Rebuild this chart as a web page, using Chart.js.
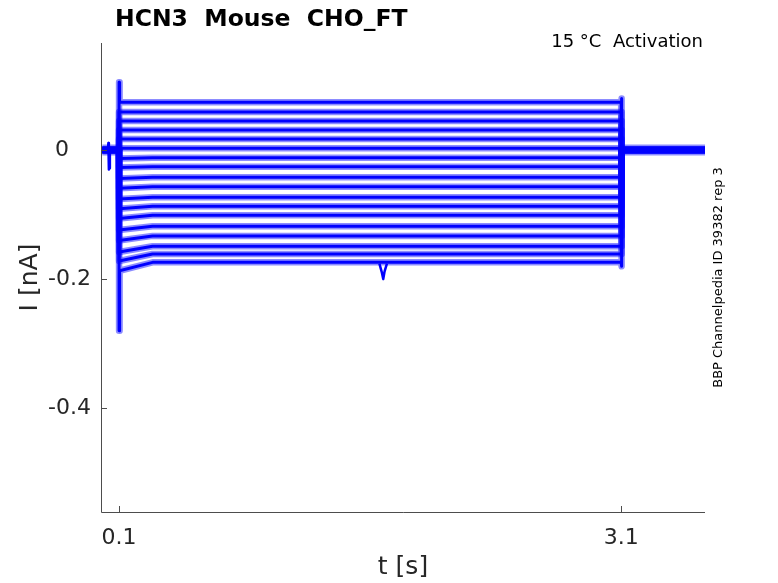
<!DOCTYPE html>
<html>
<head>
<meta charset="utf-8">
<script src="https://cdn.jsdelivr.net/npm/chart.js@4.4.1/dist/chart.umd.min.js"></script>
<style>
  html, body { margin: 0; padding: 0; background: #fff; }
  #wrap { width: 778px; height: 583px; }
</style>
</head>
<body>
<div id="wrap"><canvas id="myChart" width="778" height="583"></canvas></div>
<script>
// Time points of one sweep (s): holding, step on at 0.1, step off at 3.1
var sweepTimes = [0, 0.0995, 0.1, 0.103, 0.3, 3.099, 3.1, 3.104, 3.6];

// Steady current of each sweep during the step (nA), top to bottom
var levels = [0.074, 0.059, 0.045, 0.031, 0.017, 0.003, -0.012, -0.026, -0.042,
              -0.057, -0.073, -0.087, -0.101, -0.118, -0.133, -0.149, -0.161, -0.174];
// Current just after the onset (lower sweeps start a bit deeper)
var earlyLevels = [0.074, 0.059, 0.045, 0.031, 0.017, 0.003, -0.013, -0.027, -0.044,
                   -0.059, -0.076, -0.091, -0.106, -0.124, -0.140, -0.158, -0.172, -0.187];
// Capacitive spikes at onset and at step end
var onsetSpikes = [0.105, 0.059, 0.045, 0.031, 0.017, 0.003, -0.013, -0.027, -0.044,
                   -0.059, -0.076, -0.091, -0.106, -0.124, -0.140, -0.158, -0.172, -0.28];
var offsetSpikes = [0.08, 0.059, 0.045, 0.031, 0.017, 0.003, -0.012, -0.026, -0.042,
                    -0.057, -0.073, -0.087, -0.101, -0.118, -0.133, -0.149, -0.161, -0.18];

// Noise band of the holding current before and after the step
var bandTimes = [0, 0.099, 1.6, 3.103, 3.6];
var bandValues = [0, 0, null, 0, 0];

// Small artifact before the step
var artTimes = [0.033, 0.036, 0.039, 0.042, 0.045];
var artValues = [0, 0.011, -0.03, -0.028, 0];

// Dip on the lowest sweep
var dipTimes = [1.655, 1.67, 1.678, 1.686, 1.70];
var dipValues = [-0.176, -0.19, -0.2, -0.188, -0.176];

// Tick values and labels
var xTicks = [0.1, 3.1];
var xTickLabels = ['0.1', '3.1'];
var yTicks = [0, -0.2, -0.4];
var yTickLabels = ['0', '-0.2', '-0.4'];

var blue = '#0000ff';
var haze = 'rgba(0, 0, 255, 0.45)';
var fontName = '"DejaVu Sans", sans-serif';

function pairs(ts, vs) {
    return ts.map(function (t, i) { return { x: t, y: vs[i] }; });
}

var datasets = [];
// noisy look: a faint wide stroke under a narrow solid one
datasets.push({ data: pairs(bandTimes, bandValues), borderColor: haze, borderWidth: 11, spanGaps: false });
datasets.push({ data: pairs(bandTimes, bandValues), borderColor: blue, borderWidth: 6, spanGaps: false });
datasets.push({ data: pairs(artTimes, artValues), borderColor: blue, borderWidth: 2.5 });
levels.forEach(function (lv, i) {
    var vals = [0, 0, onsetSpikes[i], earlyLevels[i], lv, lv, offsetSpikes[i], 0, 0];
    datasets.push({ data: pairs(sweepTimes, vals), borderColor: haze, borderWidth: 6.5 });
    datasets.push({ data: pairs(sweepTimes, vals), borderColor: blue, borderWidth: 3 });
});
datasets.push({ data: pairs(dipTimes, dipValues), borderColor: blue, borderWidth: 2.5 });

// Draws MATLAB style axes (inward ticks, no box) and the texts
var axesPlugin = {
    id: 'matlabAxes',
    afterDraw: function (chart) {
        var ctx = chart.ctx, a = chart.chartArea;
        var xs = chart.scales.x, ys = chart.scales.y;
        ctx.save();
        ctx.strokeStyle = '#4d4d4d';
        ctx.lineWidth = 1;
        ctx.beginPath();
        ctx.moveTo(a.left + 0.5, a.top);
        ctx.lineTo(a.left + 0.5, a.bottom + 0.5);
        ctx.lineTo(a.right, a.bottom + 0.5);
        yTicks.forEach(function (v) {
            var y = Math.round(ys.getPixelForValue(v)) + 0.5;
            ctx.moveTo(a.left, y);
            ctx.lineTo(a.left + 6, y);
        });
        xTicks.forEach(function (v) {
            var x = Math.round(xs.getPixelForValue(v)) + 0.5;
            ctx.moveTo(x, a.bottom);
            ctx.lineTo(x, a.bottom - 6);
        });
        ctx.stroke();

        ctx.fillStyle = '#262626';
        ctx.font = '22px ' + fontName;
        ctx.textBaseline = 'middle';
        ctx.textAlign = 'right';
        yTicks.forEach(function (v, i) {
            var lbl = yTickLabels[i];
            var x = lbl === '0' ? 69 : 91;
            ctx.fillText(lbl, x, ys.getPixelForValue(v));
        });
        ctx.textAlign = 'center';
        xTicks.forEach(function (v, i) {
            ctx.fillText(xTickLabels[i], xs.getPixelForValue(v), a.bottom + 26);
        });

        ctx.font = '25px ' + fontName;
        ctx.fillText('t [s]', (a.left + a.right) / 2, a.bottom + 55);
        ctx.save();
        ctx.translate(30, (a.top + a.bottom) / 2);
        ctx.rotate(-Math.PI / 2);
        ctx.fillText('I [nA]', 0, 0);
        ctx.restore();

        ctx.textBaseline = 'alphabetic';
        ctx.textAlign = 'left';
        ctx.fillStyle = '#000';
        ctx.font = 'bold 23.5px ' + fontName;
        ctx.fillText('HCN3  Mouse  CHO_FT', 115, 26);

        ctx.textAlign = 'right';
        ctx.font = '18px ' + fontName;
        ctx.fillText('15 \u00b0C  Activation', 703, 47);

        ctx.save();
        ctx.translate(719, (a.top + a.bottom) / 2);
        ctx.rotate(-Math.PI / 2);
        ctx.textAlign = 'center';
        ctx.textBaseline = 'middle';
        ctx.font = '13px ' + fontName;
        ctx.fillText('BBP Channelpedia ID 39382 rep 3', 0, 0);
        ctx.restore();
        ctx.restore();
    }
};

var ctx = document.getElementById('myChart').getContext('2d');
var myChart = new Chart(ctx, {
    type: 'line',
    data: { datasets: datasets },
    options: {
        responsive: false,
        animation: false,
        devicePixelRatio: 1,
        layout: { padding: { left: 101, right: 73, top: 43, bottom: 71 } },
        elements: { point: { radius: 0 }, line: { tension: 0, borderJoinStyle: 'round' } },
        plugins: { legend: { display: false }, tooltip: { enabled: false } },
        scales: {
            x: { type: 'linear', min: -0.008, max: 3.6, display: false },
            y: { type: 'linear', min: -0.561, max: 0.166, display: false }
        }
    },
    plugins: [axesPlugin]
});
</script>
</body>
</html>
